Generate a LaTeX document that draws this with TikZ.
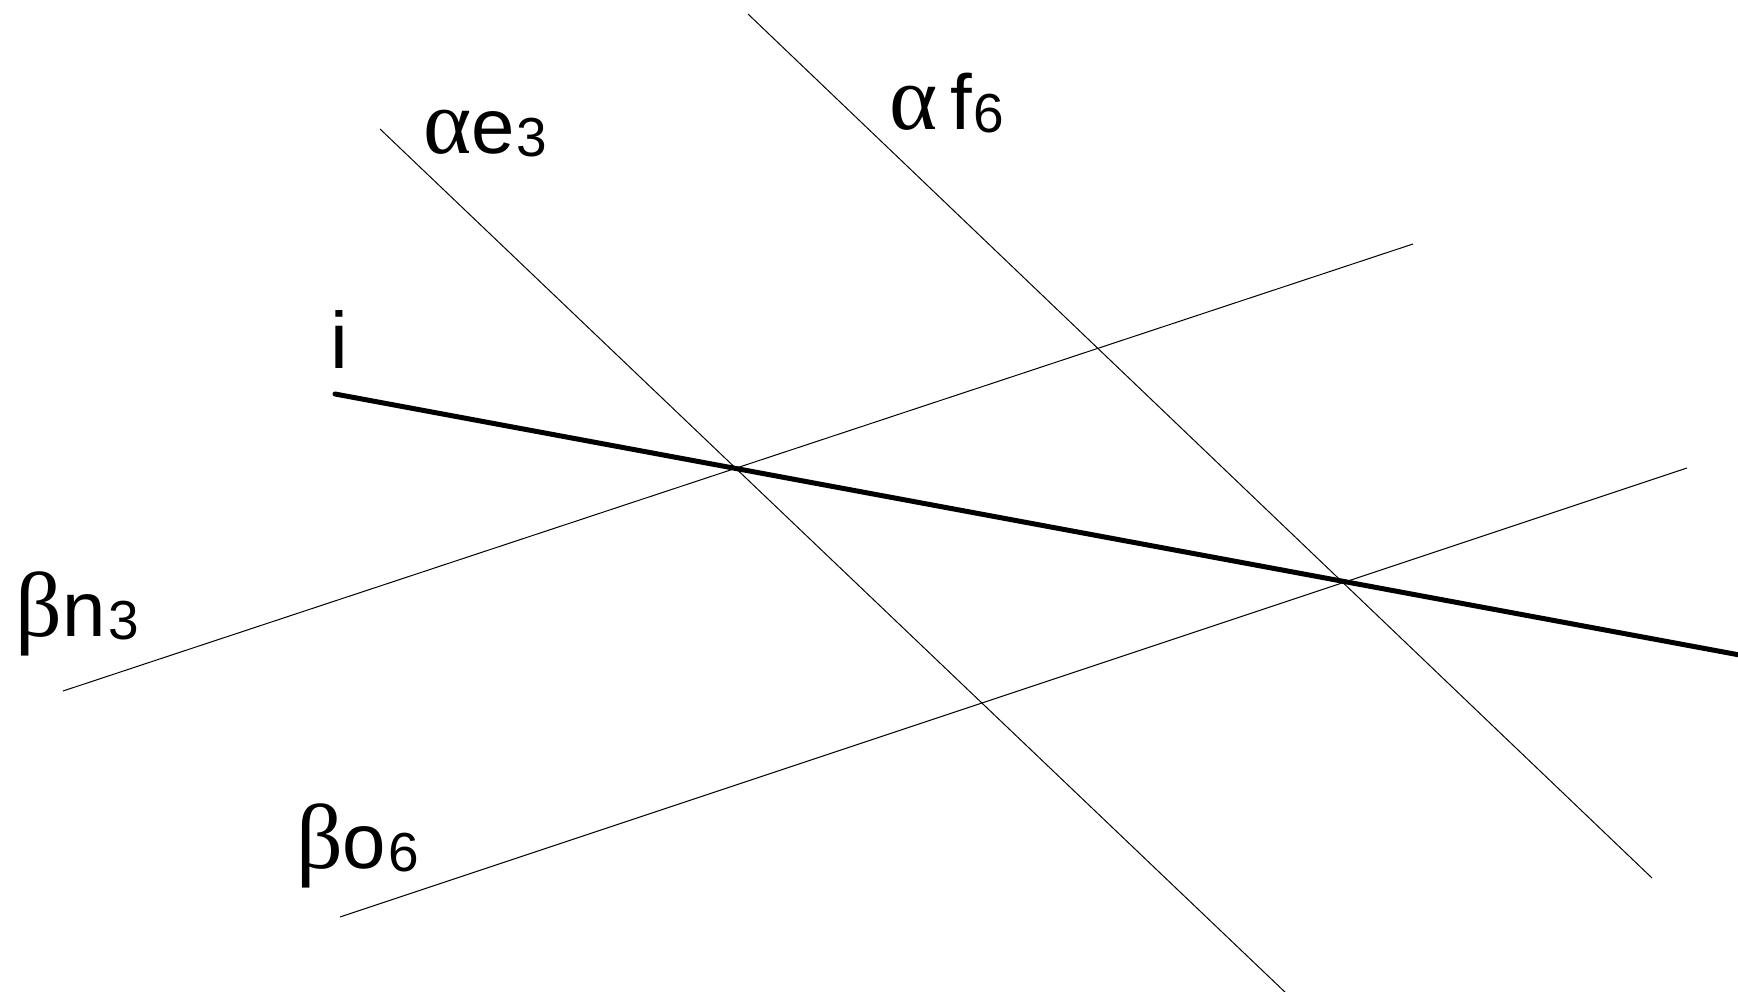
\documentclass[tikz,border=0pt]{standalone}
\usepackage{fontspec}
\setmainfont{Liberation Sans}
\newfontfamily\grk{Liberation Serif}
\newcommand{\lbl}[3]{{{\fontsize{92}{100}\selectfont\grk #1}{\fontsize{78}{90}\selectfont #2}\hspace{2pt}\raisebox{-3pt}{\fontsize{55}{60}\selectfont #3}}}
\tikzset{
  thin line/.style={line width=1pt, black},
  thick line/.style={line width=5pt, black},
  lab/.style={anchor=base west, inner sep=0pt, outer sep=0pt}
}
\begin{document}
\begin{tikzpicture}[x=1pt,y=-1pt]
\useasboundingbox (0,0) rectangle (1738,992);
% endpoints
\coordinate (e1) at (380,129);
\coordinate (e2) at (1287,994);
\coordinate (f1) at (748,14);
\coordinate (f2) at (1652,878);
\coordinate (n1) at (63,691);
\coordinate (n2) at (1413,244);
\coordinate (o1) at (340,917);
\coordinate (o2) at (1687,468);
\coordinate (i1) at (335,394);
\coordinate (i2) at (1745,656);
\draw[thin line] (e1) -- (e2);
\draw[thin line] (f1) -- (f2);
\draw[thin line] (n1) -- (n2);
\draw[thin line] (o1) -- (o2);
\draw[thick line, line cap=round] (i1) -- (i2);
% labels
\node[lab] (le) at (423,154) {\lbl{α}{e}{3}};
\node[lab] (lf) at (889,130) {\lbl{α}{\,f}{6}};
\node[lab] (ln) at (16,636) {\lbl{β}{n}{3}};
\node[lab] (lo) at (296,868) {\lbl{β}{o}{6}};
\node[lab] (li) at (330,368) {\fontsize{80}{90}\selectfont i};
\end{tikzpicture}
\end{document}
